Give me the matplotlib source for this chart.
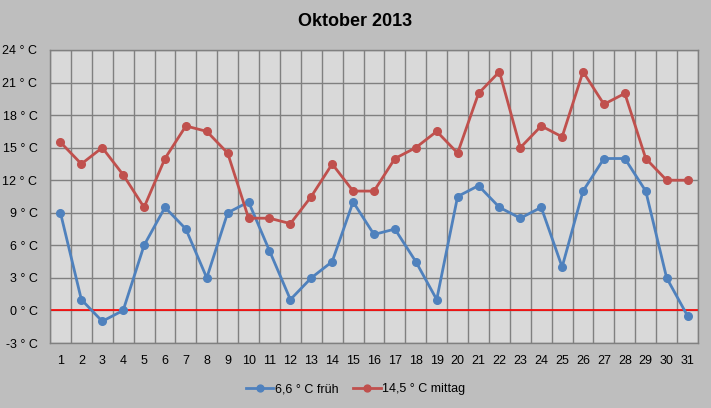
import matplotlib
matplotlib.use("Agg")
import matplotlib.pyplot as plt
import numpy as np

days = list(range(1, 32))
frueh = [9, 1, -1, 0, 6, 9.5, 7.5, 3, 9, 10,
         5.5, 1, 3, 4.5, 10, 7, 7.5, 4.5, 1, 10.5,
         11.5, 9.5, 8.5, 9.5, 4, 11, 14, 14, 11, 3, -0.5]
mittag = [15.5, 13.5, 15, 12.5, 9.5, 14, 17, 16.5, 14.5, 8.5,
          8.5, 8, 10.5, 13.5, 11, 11, 14, 15, 16.5, 14.5,
          20, 22, 15, 17, 16, 22, 19, 20, 14, 12, 12]
yticks = list(range(-3, 25, 3))
title = "Oktober 2013"
label_frueh = "6,6 ° C früh"
label_mittag = "14,5 ° C mittag"

plt.rcParams['font.family'] = ['Liberation Sans', 'DejaVu Sans']

fig = plt.figure(figsize=(7.11, 4.08), dpi=100, facecolor='#BEBEBE')
ax = fig.add_axes([50/711, 1-343/408, 648/711, 293/408])
ax.set_facecolor('#D9D9D9')

x = np.arange(len(days))
ax.set_xlim(-0.5, len(days)-0.5)
ax.set_ylim(-3, 24)

for b in np.arange(-0.5, len(days), 1.0):
    ax.axvline(b, color='#808080', lw=1.0, zorder=1)
for t in yticks:
    ax.axhline(t, color='#808080', lw=1.0, zorder=1)
ax.axhline(0, color='#FF0000', lw=1.2, zorder=2)

ax.plot(x, frueh, color='#4F81BD', lw=2.0, marker='o', ms=5.5, label=label_frueh, zorder=3)
ax.plot(x, mittag, color='#C0504D', lw=2.0, marker='o', ms=5.5, label=label_mittag, zorder=3)

ax.set_xticks(x)
ax.set_xticklabels([str(d) for d in days], fontsize=9)
ax.set_yticks(yticks)
ax.set_yticklabels([f"{t} ° C" for t in yticks], fontsize=9)
ax.tick_params(axis='both', length=0, colors='black')
ax.tick_params(axis='x', pad=9)
ax.tick_params(axis='y', pad=9)
for s in ax.spines.values():
    s.set_color('#808080')
    s.set_linewidth(1.0)

fig.text(0.5, 1-22/408, title, ha='center', va='center', fontsize=13, fontweight='bold')

fig.legend(loc='center', bbox_to_anchor=(0.5, 1-389/408), ncol=2, frameon=False,
           fontsize=9, handlelength=2.2, columnspacing=1.2, handletextpad=0.1,
           markerscale=0.9)

fig.savefig('out.png', dpi=100, facecolor=fig.get_facecolor())
